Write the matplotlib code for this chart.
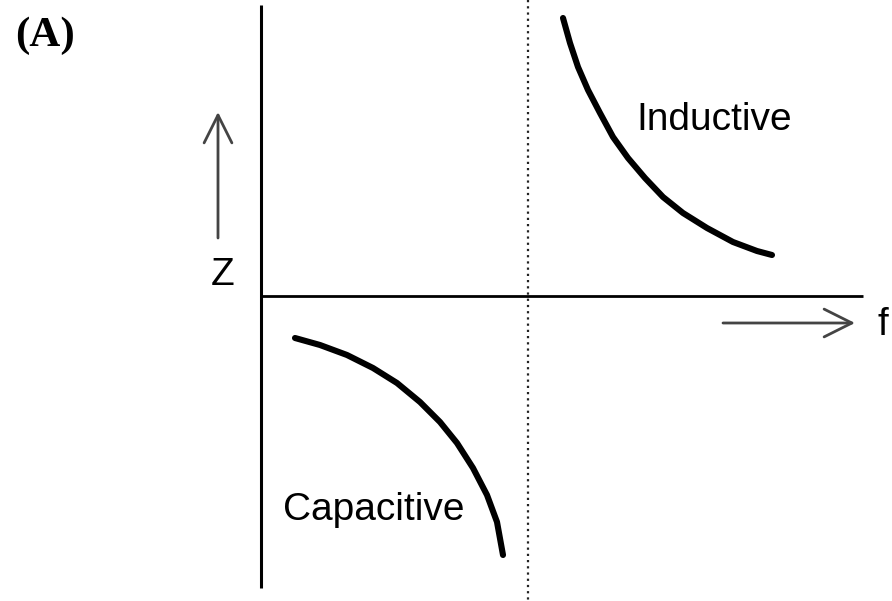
import matplotlib
matplotlib.use("Agg")
import matplotlib.pyplot as plt

# Data (f, Z) in arbitrary units; origin at the axis crossing
ind_f = [3.02, 3.09, 3.17, 3.27, 3.39, 3.52, 3.67, 3.84, 4.02, 4.22, 4.46, 4.72, 4.96, 5.11]
ind_z = [2.78, 2.53, 2.29, 2.06, 1.83, 1.59, 1.38, 1.18, 0.99, 0.83, 0.68, 0.54, 0.45, 0.41]
cap_f = [0.34, 0.59, 0.86, 1.12, 1.36, 1.59, 1.79, 1.96, 2.12, 2.26, 2.36, 2.42]
cap_z = [-0.42, -0.49, -0.59, -0.72, -0.87, -1.06, -1.26, -1.47, -1.72, -1.99, -2.26, -2.59]
f_res = 2.67

fig = plt.figure(figsize=(8.92, 6.01), dpi=100)
ax = fig.add_axes([0, 0, 1, 1])
ax.set_xlim(-2.61, 6.31)
ax.set_ylim(-3.05, 2.96)
ax.axis("off")

# axes lines
ax.plot([0, 0], [2.91, -2.92], color="black", lw=2.2, solid_capstyle="butt")
ax.plot([0, 6.02], [0, 0], color="black", lw=2.0, solid_capstyle="butt")
# resonance dotted line
ax.plot([f_res, f_res], [2.96, -3.05], color="#222222", lw=1.6, linestyle=(0, (1, 1.8)))

# curves
ax.plot(ind_f, ind_z, color="black", lw=4.4, solid_capstyle="round", solid_joinstyle="round")
ax.plot(cap_f, cap_z, color="black", lw=4.4, solid_capstyle="round", solid_joinstyle="round")

# arrows
aprops = dict(arrowstyle="->,head_length=1.0,head_width=0.5", color="#444444", lw=2,
              mutation_scale=20, shrinkA=0, shrinkB=0)
ax.annotate("", xy=(-0.43, 1.84), xytext=(-0.43, 0.58), arrowprops=aprops)
ax.annotate("", xy=(5.94, -0.27), xytext=(4.62, -0.27), arrowprops=aprops)

# text
ax.text(-2.16, 2.60, "(A)", fontsize=31, fontweight="bold", family="Liberation Serif",
        ha="center", va="center")
ax.text(-0.38, 0.21, "Z", fontsize=28, family="Liberation Sans", ha="center", va="center")
ax.text(6.22, -0.29, "f", fontsize=28, family="Liberation Sans", ha="center", va="center")
ax.text(4.53, 1.76, "Inductive", fontsize=28, family="Liberation Sans", ha="center", va="center")
ax.text(1.13, -2.14, "Capacitive", fontsize=28, family="Liberation Sans", ha="center", va="center")

fig.savefig("out.png", dpi=100)
